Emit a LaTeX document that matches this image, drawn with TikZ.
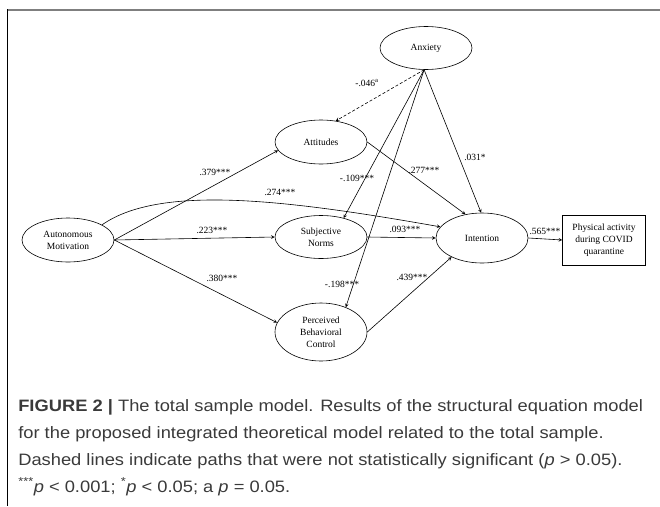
\documentclass[tikz,border=0pt]{standalone}
\usepackage{fontspec}
\setmainfont{Liberation Serif}
\newfontfamily\capfont[FakeStretch=1.11]{Liberation Sans}
\usetikzlibrary{shapes.geometric}
\definecolor{capgray}{HTML}{3A3A3A}
\definecolor{rulegray}{HTML}{7F7F7F}
\begin{document}
\begin{tikzpicture}[>=stealth,x=1pt,y=-1pt,line width=0.6pt,font=\fontsize{9.5}{12}\selectfont,
	lat/.style={draw,ellipse,align=center,inner sep=0pt,minimum width=92},
	coef/.style={inner sep=0pt},
	capline/.style={anchor=base west,inner sep=0pt,text=capgray,font=\capfont\fontsize{16.5}{27}\selectfont}]
	\useasboundingbox (0,0) rectangle (660,506);
	\draw[rulegray,line width=2.2pt] (7,10) -- (660,10);
	\draw[line width=1.2pt] (7.6,9) -- (7.6,506);
	% variables
	\node[lat,minimum height=43] (anx) at (426,48) {Anxiety};
	\node[lat,minimum height=44] (att) at (321,142) {Attitudes};
	\node[lat,minimum height=44] (mot) at (68,240) {Autonomous\\Motivation};
	\node[lat,minimum height=43] (sn) at (321,237) {Subjective\\Norms};
	\node[lat,minimum height=58] (pbc) at (321,332) {Perceived\\Behavioral\\Control};
	\node[lat,minimum width=92,minimum height=50] (int) at (482,238) {Intention};
	\node[draw,align=center,minimum width=83,minimum height=50,inner sep=0pt] (pa) at (604,240) {Physical activity\\during COVID\\quarantine};
	% paths
	\draw[->,dash pattern=on 3pt off 2pt] (anx.265) -- (att.55);
	\draw[->] (anx.265) -- (sn.40);
	\draw[->] (anx.265) -- (pbc.45);
	\draw[->] (anx.265) -- (int.92);
	\draw[->] (att.east) -- (int.125);
	\draw[->] (mot.east) -- (att.191);
	\draw[->] (mot.24) .. controls +(57,-40) and +(-158,-28) .. (int.165);
	\draw[->] (mot.east) -- (sn.west);
	\draw[->] (mot.east) -- (pbc.168);
	\draw[->] (sn.east) -- (int.west);
	\draw[->] (pbc.east) -- (int.212);
	\draw[->] (int.east) -- (pa.west);
	% coefficients
	\node[coef] (c046) at (367,83) {-.046\textsuperscript{a}};
	\node[coef] (c109) at (357,178) {-.109***};
	\node[coef] (c198) at (342,284) {-.198***};
	\node[coef] (c031) at (475,157) {.031*};
	\node[coef] (c277) at (424,170) {.277***};
	\node[coef] (c379) at (215,172) {.379***};
	\node[coef] (c274) at (280,192) {.274***};
	\node[coef] (c223) at (212,230) {.223***};
	\node[coef] (c380) at (222,278) {.380***};
	\node[coef] (c093) at (405,229) {.093***};
	\node[coef] (c439) at (412,277) {.439***};
	\node[coef] (c565) at (545,231) {.565***};
	% caption
	\node[capline] (cap1) at (18,411) {\textbf{FIGURE 2 |} The total sample model. Results of the structural equation model};
	\node[capline] (cap2) at (18,438) {for the proposed integrated theoretical model related to the total sample.};
	\node[capline] (cap3) at (18,465) {Dashed lines indicate paths that were not statistically significant (\textit{p} > 0.05).};
	\node[capline] (cap4) at (18,492) {\textsuperscript{***}\textit{p} < 0.001; \textsuperscript{*}\textit{p} < 0.05; a \textit{p} = 0.05.};
\end{tikzpicture}
\end{document}
